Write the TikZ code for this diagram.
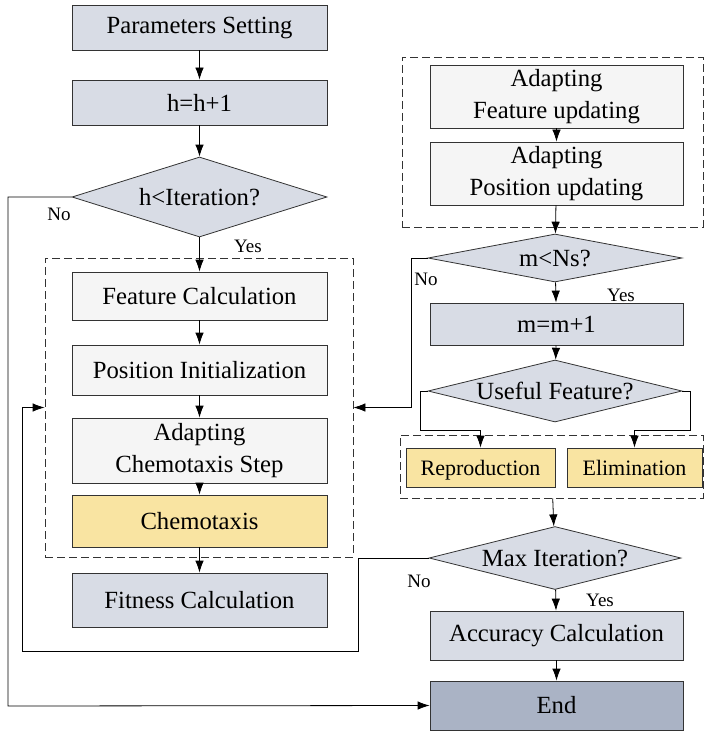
\documentclass[tikz,border=0pt]{standalone}
\usepackage{fontspec}
\setmainfont{Liberation Serif}
\usetikzlibrary{shapes.geometric,arrows.meta}
\definecolor{boxgray}{HTML}{D8DCE5}
\definecolor{boxlight}{HTML}{F5F5F5}
\definecolor{boxyellow}{HTML}{F9E4A2}
\definecolor{boxdark}{HTML}{AAB3C5}
\newcommand{\flowstep}[5]{%
 \node[#1, minimum height=#2] ({#3}) at ({#4}) {#5};%
}

\begin{document}
\begin{tikzpicture}[x=1pt,y=-1pt,line width=0.8pt,
  stepbox/.style={draw=black!80, rectangle, minimum width=255, inner sep=0pt,
    align=center, font=\fontsize{24.7}{31.5}\selectfont},
  graybox/.style={stepbox, fill=boxgray},
  lightbox/.style={stepbox, fill=boxlight},
  yellowbox/.style={stepbox, fill=boxyellow},
  decision/.style={draw=black!80, diamond, fill=boxgray, inner sep=0pt,
    font=\fontsize{24.7}{28}\selectfont},
  grpbox/.style={draw=black!80, dashed, dash pattern=on 8pt off 4pt, rectangle, inner sep=0pt},
  arr/.style={-{Latex[length=12pt,width=8.5pt]}},
  lbl/.style={font=\fontsize{19}{22}\selectfont, inner sep=0pt}]
   \useasboundingbox (0,0) rectangle (704,733);
   % left column
   \flowstep{graybox}{45}{params}{199.5,27.5}{Parameters Setting};
   \flowstep{graybox}{45}{inc}{199.5,102.5}{h=h+1};
   \node[decision, minimum width=255, minimum height=80, shape aspect=3.2] (hit) at (199.5,197) {h<Iteration?};
   \node[grpbox, minimum width=308, minimum height=299] (grpA) at (199,407.5) {};
   \flowstep{lightbox}{48}{feat}{199.5,296}{Feature Calculation};
   \flowstep{lightbox}{50}{posinit}{199.5,370}{Position Initialization};
   \flowstep{lightbox}{65}{adchemo}{199.5,450.5}{Adapting\\Chemotaxis Step};
   \flowstep{yellowbox}{52}{chemo}{199.5,521}{Chemotaxis};
   \flowstep{graybox}{54}{fit}{199.5,600}{Fitness Calculation};
   % right column
   \node[grpbox, minimum width=301, minimum height=170] (grpB) at (552.5,142) {};
   \flowstep{lightbox, minimum width=253}{63}{adfeat}{556.5,96.5}{Adapting\\Feature updating};
   \flowstep{lightbox, minimum width=253}{63}{adpos}{556.5,173.5}{Adapting\\Position updating};
   \node[decision, minimum width=254, minimum height=48, shape aspect=5.3] (mns) at (555,258) {m<Ns?};
   \flowstep{graybox, minimum width=253}{42}{minc}{556.5,324}{m=m+1};
   \node[decision, minimum width=254, minimum height=62, shape aspect=4.1] (useful) at (555,391) {Useful Feature?};
   \node[grpbox, minimum width=303, minimum height=63] (grpC) at (551.5,466.5) {};
   \flowstep{yellowbox, minimum width=149, text height=18pt, text depth=2pt, font=\fontsize{22}{26}\selectfont}{39}{repro}{480.5,467.5}{Reproduction};
   \flowstep{yellowbox, minimum width=135, text height=18pt, text depth=2pt, font=\fontsize{22}{26}\selectfont}{39}{elim}{634.5,467.5}{Elimination};
   \node[decision, minimum width=252, minimum height=63, shape aspect=4] (maxit) at (555,558) {Max Iteration?};
   \flowstep{graybox, minimum width=253}{49}{acc}{556.5,635.5}{Accuracy Calculation};
   \flowstep{stepbox, fill=boxdark, minimum width=253}{49}{endn}{556.5,705.5}{End};
   % helper points
   \coordinate (lpA) at (358,651);
   \coordinate (lpB) at (22,651);
   \coordinate (lpC) at (8,706);
   \coordinate (brL) at (420,430);
   \coordinate (brR) at (690,430);
   % straight links
   \path[arr] (params) edge (inc)
              (inc) edge (hit)
              (hit) edge (feat)
              (feat) edge (posinit)
              (posinit) edge (adchemo)
              (adchemo) edge (chemo)
              (chemo) edge (fit)
              (adfeat) edge (adpos)
              (adpos) edge (mns)
              (mns) edge (minc)
              (minc) edge (useful)
              (grpC) edge (maxit)
              (maxit) edge (acc)
              (acc) edge (endn);
   % loops
   \draw[arr] (hit.west) -| (lpC) -- (endn.west);
   \draw[arr] (mns.west) -- ++(-16,0) |- (grpA.east);
   \draw[arr] (maxit.west) -| (lpA) -- (lpB) |- (grpA.west);
   \draw[arr] (useful.west) -| (brL) -| (repro.north);
   \draw[arr] (useful.east) -| (brR) -| (elim.north);
   % labels
   \node[lbl] (noA) at (59,214) {No};
   \node[lbl] (yesA) at (248,246) {Yes};
   \node[lbl] (noB) at (426,279) {No};
   \node[lbl] (yesB) at (621,295) {Yes};
   \node[lbl] (noC) at (419,581) {No};
   \node[lbl] (yesC) at (600,600) {Yes};
  \end{tikzpicture}
\end{document}
